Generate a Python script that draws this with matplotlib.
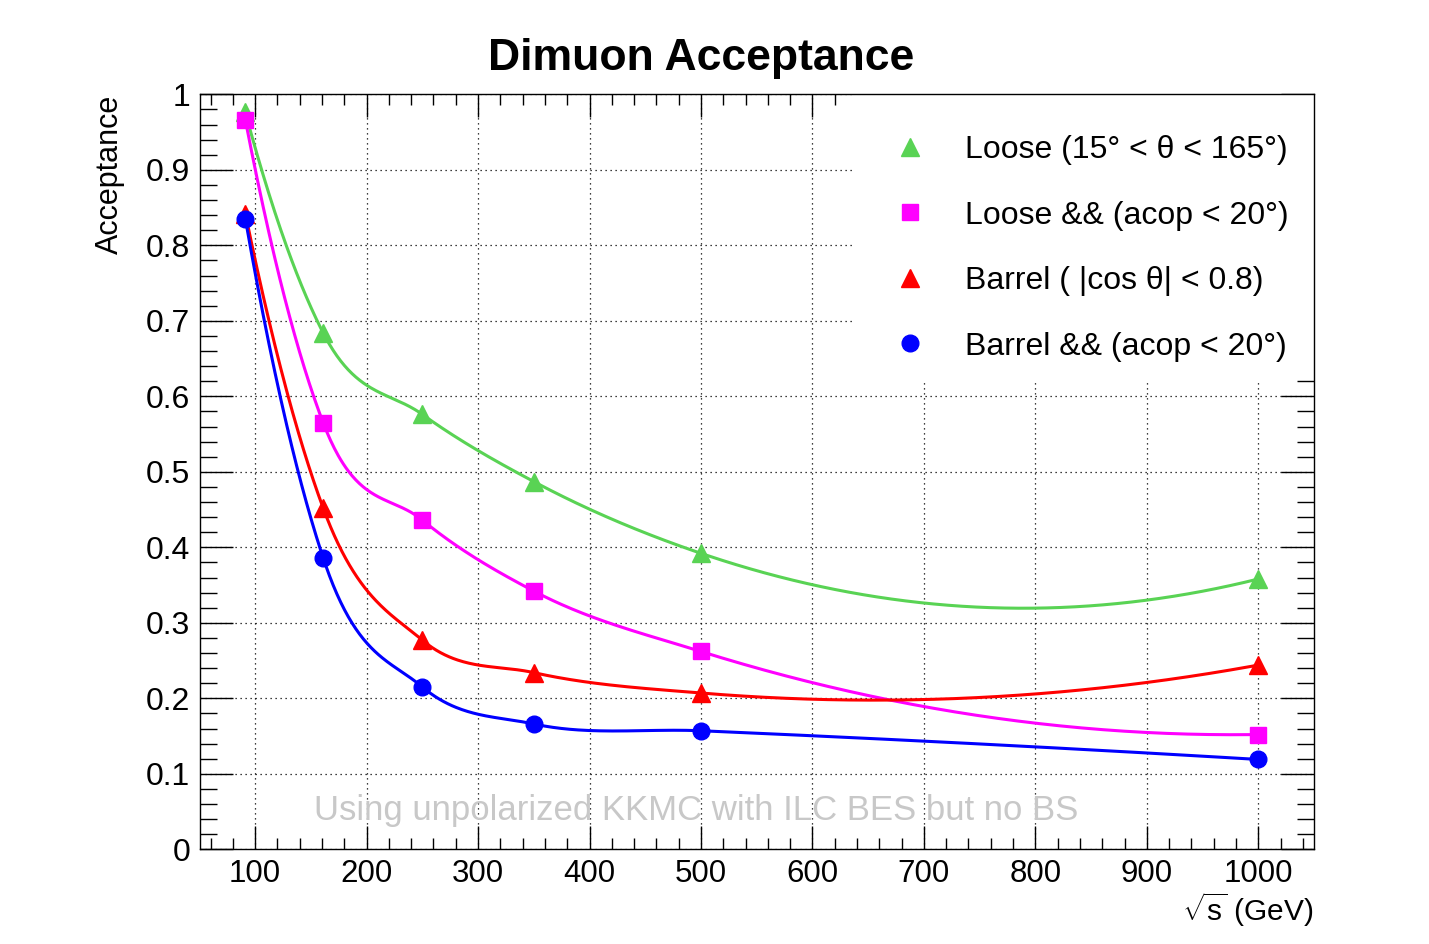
import numpy as np
import matplotlib
matplotlib.use("Agg")
import matplotlib.pyplot as plt
from matplotlib.lines import Line2D
from matplotlib.patches import Rectangle
from matplotlib.ticker import MultipleLocator, FuncFormatter

plt.rcParams['font.family'] = ['Liberation Sans', 'DejaVu Sans']
plt.rcParams['mathtext.fontset'] = 'custom'
plt.rcParams['mathtext.rm'] = 'Liberation Sans'
plt.rcParams['mathtext.it'] = 'Liberation Sans'

# --- datos ---
energia = [91.2, 161, 250, 350, 500, 1000]
loose = [0.976, 0.684, 0.576, 0.487, 0.392, 0.358]
loose_acop = [0.966, 0.565, 0.436, 0.342, 0.262, 0.152]
barrel = [0.842, 0.452, 0.277, 0.234, 0.207, 0.244]
barrel_acop = [0.835, 0.386, 0.215, 0.166, 0.157, 0.119]

etiquetas = ['Loose (15\u00b0 < \u03b8 < 165\u00b0)',
             'Loose && (acop < 20\u00b0)',
             'Barrel ( |cos \u03b8| < 0.8)',
             'Barrel && (acop < 20\u00b0)']
colores = ['#59d354', '#ff00ff', '#ff0000', '#0000ff']
marcadores = ['^', 's', '^', 'o']
tam_marcador = [13, 12, 13, 12]

XMIN, XMAX = 50.5, 1050.0
YMIN, YMAX = 0.0, 1.0


def curva_suave(x, y, npts=80):
    # Hermite cúbico con tangentes de Bessel (parábola por tres puntos vecinos)
    x = np.asarray(x, float)
    y = np.asarray(y, float)
    h = np.diff(x)
    d = np.diff(y) / h
    m = np.zeros_like(y)
    m[1:-1] = (h[1:] * d[:-1] + h[:-1] * d[1:]) / (h[:-1] + h[1:])
    m[0] = d[0] + (d[0] - d[1]) * h[0] / (h[0] + h[1])
    m[-1] = d[-1] + (d[-1] - d[-2]) * h[-1] / (h[-1] + h[-2])
    cx, cy = [], []
    for i in range(len(x) - 1):
        s = np.linspace(0, 1, npts)
        h00 = 2 * s**3 - 3 * s**2 + 1
        h10 = s**3 - 2 * s**2 + s
        h01 = -2 * s**3 + 3 * s**2
        h11 = s**3 - s**2
        cx.append(x[i] + s * h[i])
        cy.append(h00 * y[i] + h10 * h[i] * m[i] + h01 * y[i + 1] + h11 * h[i] * m[i + 1])
    return np.concatenate(cx), np.concatenate(cy)


fig = plt.figure(figsize=(14.29, 9.44), dpi=100)
ax = fig.add_axes([200 / 1429, 1 - 849.3 / 944, 1114 / 1429, 755 / 944])

series = [loose, loose_acop, barrel, barrel_acop]
for vals, c, m, ms in zip(series, colores, marcadores, tam_marcador):
    cx, cy = curva_suave(energia, vals)
    ax.plot(cx, cy, color=c, lw=2.2, zorder=3)
    ax.plot(energia, vals, ls='none', marker=m, ms=ms, color=c, mec=c, zorder=4)

ax.set_xlim(XMIN, XMAX)
ax.set_ylim(YMIN, YMAX)

ax.xaxis.set_major_locator(MultipleLocator(100))
ax.xaxis.set_minor_locator(MultipleLocator(20))
ax.yaxis.set_major_locator(MultipleLocator(0.1))
ax.yaxis.set_minor_locator(MultipleLocator(0.02))
ax.yaxis.set_major_formatter(FuncFormatter(lambda v, p: '%g' % round(v, 2)))

ax.tick_params(which='both', direction='in', top=True, right=True, width=1.0, labelsize=23)
ax.tick_params(axis='x', which='major', length=16.3, pad=7, labelsize=22.5)
ax.tick_params(axis='x', which='minor', length=8.1)
ax.tick_params(axis='y', which='major', length=24, pad=7)
ax.tick_params(axis='y', which='minor', length=12)
for s in ax.spines.values():
    s.set_linewidth(1.0)

ax.grid(True, which='major', color='black', ls=(0, (1, 3)), lw=0.9)
ax.set_axisbelow(True)

# fondo blanco de la leyenda (tapa la rejilla)
ax.add_patch(Rectangle((0.588, 0.622), 0.412, 0.378, transform=ax.transAxes,
                       facecolor='white', edgecolor='none', zorder=1.5))

handles = [Line2D([], [], ls='none', marker=m, ms=ms, color=c, mec=c)
           for c, m, ms in zip(colores, marcadores, tam_marcador)]
ax.legend(handles, etiquetas, loc='upper left', bbox_to_anchor=(0.6086, 0.967),
          frameon=False, fontsize=23, handlelength=1.0, handletextpad=1.22,
          labelspacing=1.11, borderpad=0.0)

ax.text(495.3, 0.052, 'Using unpolarized KKMC with ILC BES but no BS', color='#c8c8c8',
        fontsize=25, ha='center', va='center', zorder=2)

fig.text(701.5 / 1429, 1 - 70 / 944, 'Dimuon Acceptance', fontsize=32, fontweight='bold',
         ha='center', va='baseline')
ax.set_ylabel('Acceptance', fontsize=22, loc='top', labelpad=15)
ax.set_xlabel(r'$\sqrt{\mathrm{s}}$ (GeV)', fontsize=21.5, loc='right', labelpad=1)

fig.savefig('out.png', dpi=100)
